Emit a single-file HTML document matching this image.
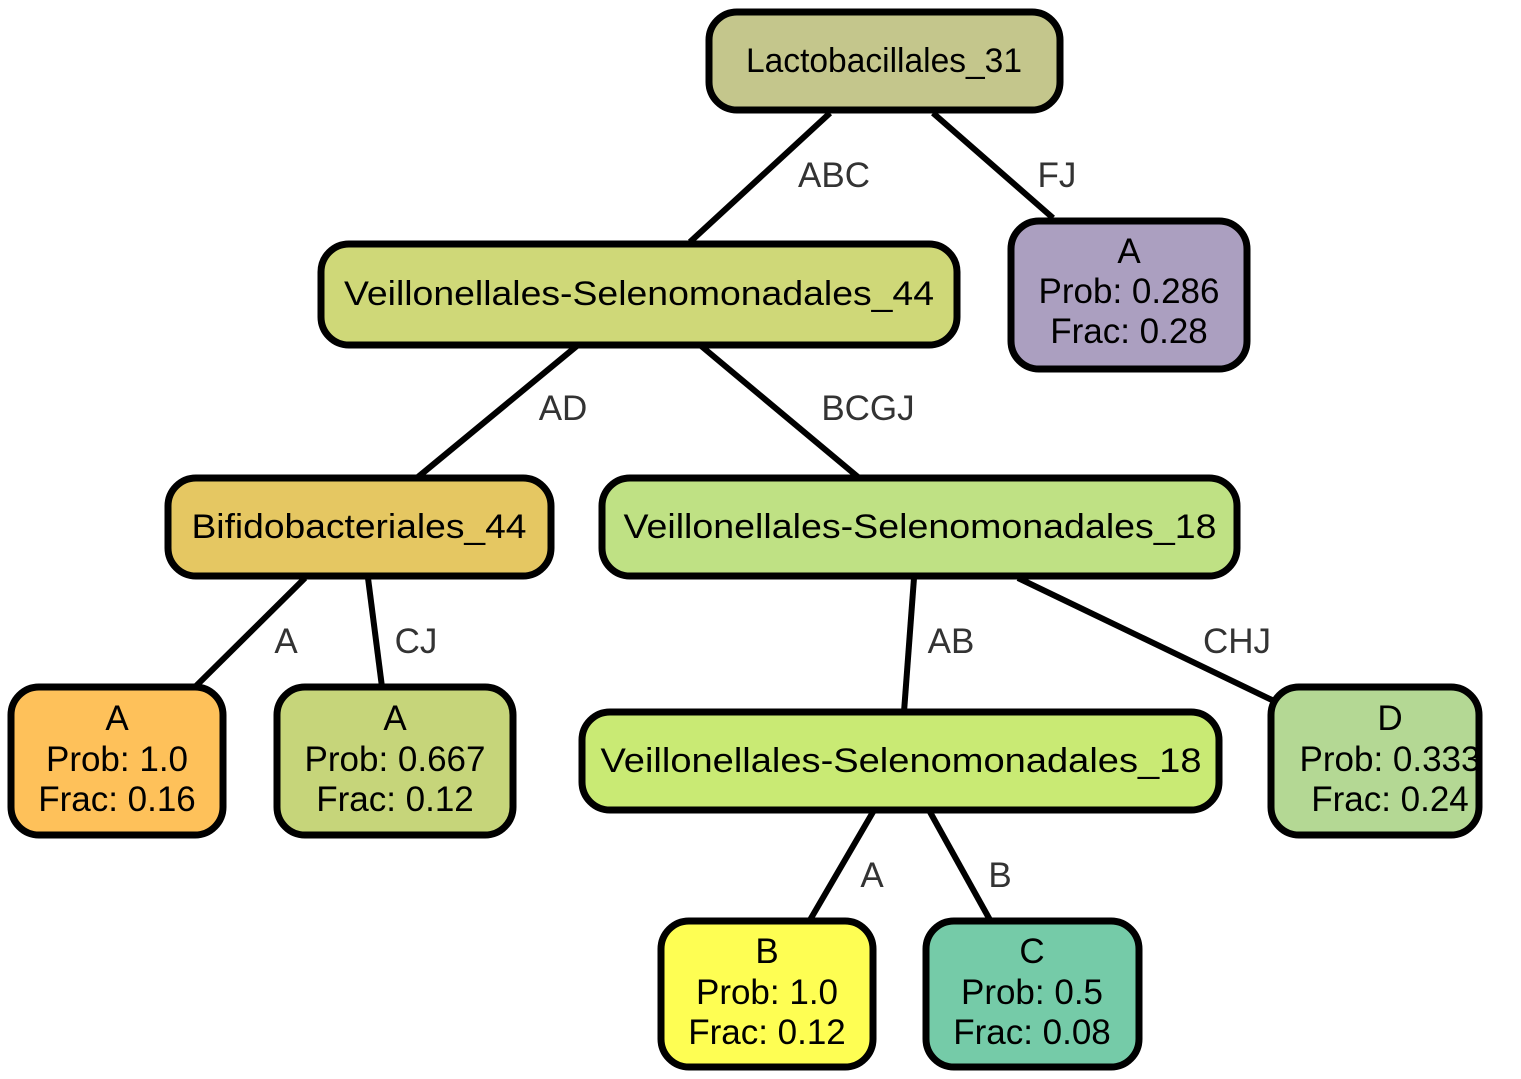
<!DOCTYPE html>
<html><head><meta charset="utf-8"><style>
html,body{margin:0;padding:0;background:#fff;}
svg{display:block;}
text{font-family:"Liberation Sans",Arial,sans-serif;}
.n{font-size:34px;fill:#000;text-anchor:middle;}
.m{font-size:35px;fill:#000;text-anchor:middle;}
.e{font-size:35px;fill:#333;text-anchor:middle;}
rect{stroke:#000;stroke-width:7;}
line{stroke:#000;stroke-width:6;}
</style></head><body>
<svg width="1521" height="1079" viewBox="0 0 1521 1079">
<line x1="830" y1="113" x2="690" y2="242"/>
<line x1="933" y1="113" x2="1053" y2="218"/>
<line x1="578" y1="345" x2="418" y2="477"/>
<line x1="700" y1="345" x2="858" y2="477"/>
<line x1="305" y1="578" x2="195" y2="687"/>
<line x1="368" y1="578" x2="382" y2="687"/>
<line x1="914" y1="578" x2="904" y2="712"/>
<line x1="1018" y1="578" x2="1272" y2="700"/>
<line x1="873" y1="812" x2="810" y2="920"/>
<line x1="930" y1="812" x2="990" y2="920"/>

<text class="e" x="834" y="187">ABC</text>
<text class="e" x="1057" y="187">FJ</text>
<text class="e" x="563" y="420">AD</text>
<text class="e" x="868" y="420">BCGJ</text>
<text class="e" x="286" y="653">A</text>
<text class="e" x="416" y="653">CJ</text>
<text class="e" x="951" y="653">AB</text>
<text class="e" x="1237" y="653">CHJ</text>
<text class="e" x="872" y="887">A</text>
<text class="e" x="1000" y="887">B</text>

<rect x="709" y="12" width="351" height="98" rx="28" fill="#c4c68c"/>
<text class="n" x="884" y="72" textLength="276" lengthAdjust="spacingAndGlyphs">Lactobacillales_31</text>

<rect x="321" y="244" width="636" height="101" rx="28" fill="#cfd878"/>
<text class="n" x="639" y="305" textLength="590" lengthAdjust="spacingAndGlyphs">Veillonellales-Selenomonadales_44</text>

<rect x="1011" y="221" width="236" height="148" rx="28" fill="#ab9fc0"/>
<text class="m" x="1129" y="263">A</text>
<text class="m" x="1129" y="303">Prob: 0.286</text>
<text class="m" x="1129" y="343">Frac: 0.28</text>

<rect x="168" y="478" width="383" height="98" rx="28" fill="#e5c762"/>
<text class="n" x="359" y="538" textLength="335" lengthAdjust="spacingAndGlyphs">Bifidobacteriales_44</text>

<rect x="602" y="478" width="635" height="98" rx="28" fill="#bfe184"/>
<text class="n" x="920" y="538" textLength="593" lengthAdjust="spacingAndGlyphs">Veillonellales-Selenomonadales_18</text>

<rect x="11" y="687" width="212" height="148" rx="28" fill="#fec15a"/>
<text class="m" x="117" y="730">A</text>
<text class="m" x="117" y="771">Prob: 1.0</text>
<text class="m" x="117" y="811">Frac: 0.16</text>

<rect x="277" y="687" width="236" height="148" rx="28" fill="#c6d57a"/>
<text class="m" x="395" y="730">A</text>
<text class="m" x="395" y="771">Prob: 0.667</text>
<text class="m" x="395" y="811">Frac: 0.12</text>

<rect x="582" y="712" width="637" height="98" rx="28" fill="#c9ea74"/>
<text class="n" x="901" y="772" textLength="601" lengthAdjust="spacingAndGlyphs">Veillonellales-Selenomonadales_18</text>

<rect x="1271" y="687" width="208" height="148" rx="28" fill="#b4d894"/>
<text class="m" x="1390" y="730">D</text>
<text class="m" x="1390" y="771">Prob: 0.333</text>
<text class="m" x="1390" y="811">Frac: 0.24</text>

<rect x="661" y="921" width="212" height="146" rx="28" fill="#fefe53"/>
<text class="m" x="767" y="963">B</text>
<text class="m" x="767" y="1004">Prob: 1.0</text>
<text class="m" x="767" y="1044">Frac: 0.12</text>

<rect x="926" y="921" width="213" height="146" rx="28" fill="#75cba8"/>
<text class="m" x="1032" y="963">C</text>
<text class="m" x="1032" y="1004">Prob: 0.5</text>
<text class="m" x="1032" y="1044">Frac: 0.08</text>
</svg>
</body></html>
